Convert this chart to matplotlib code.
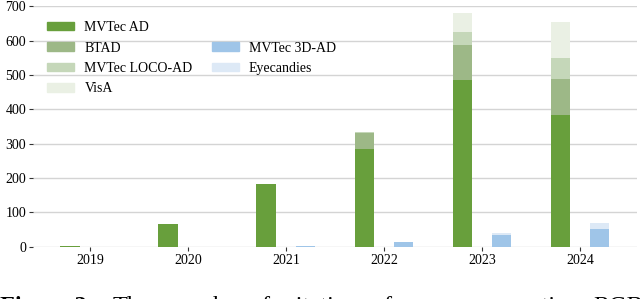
import numpy as np
import matplotlib.pyplot as plt
from matplotlib.patches import Patch

plt.rcParams['font.family'] = ['Liberation Serif', 'DejaVu Serif']

years = ['2019', '2020', '2021', '2022', '2023', '2024']
mvtec_ad = [3, 66, 183, 285, 485, 382]
btad = [0, 0, 0, 45, 102, 106]
mvtec_loco = [0, 0, 0, 3, 38, 60]
visa = [0, 0, 0, 2, 55, 107]
mvtec_3d = [0, 0, 2, 13, 34, 51]
eyecandies = [0, 0, 0, 0, 7, 19]

rgb_labels = ['MVTec AD', 'BTAD', 'MVTec LOCO-AD', 'VisA']
rgb_colors = ['#689f3c', '#9db887', '#c5d7b9', '#eaf0e4']
d3_labels = ['MVTec 3D-AD', 'Eyecandies']
d3_colors = ['#9fc5e8', '#dde9f6']

# caption words (justified line, cut off at the bottom of the crop)
caption_words = ['The', 'number', 'of', 'citations', 'of', 'our', 'comparative', 'RGB']
caption_x = [113, 170, 250, 285, 372, 407, 458, 593]

x = np.arange(len(years))
w = 0.2

fig = plt.figure(figsize=(6.4, 2.99), dpi=100)
ax = fig.add_axes([0.0516, 0.175, 0.9434, 0.804])

bottom = np.zeros(len(years))
for vals, c in zip([mvtec_ad, btad, mvtec_loco, visa], rgb_colors):
    ax.bar(x - w, vals, w, bottom=bottom, color=c, zorder=3)
    bottom += np.array(vals)

bottom = np.zeros(len(years))
for vals, c in zip([mvtec_3d, eyecandies], d3_colors):
    ax.bar(x + w, vals, w, bottom=bottom, color=c, zorder=3)
    bottom += np.array(vals)

ax.set_xlim(-0.58, 5.58)
ax.set_ylim(0, 700)
ax.set_yticks(range(0, 701, 100))
ax.set_xticks(x)
ax.set_xticklabels(years)
ax.yaxis.grid(True, color='#d4d4d4', linewidth=1.0, zorder=0)
ax.set_axisbelow(True)
for s in ax.spines.values():
    s.set_visible(False)
ax.tick_params(axis='both', length=3, width=0.8, color='#333333', labelsize=10, pad=2)

blank = Patch(color='none', label=' ')
handles = [Patch(color=c, label=l) for c, l in zip(rgb_colors, rgb_labels)]
handles += [blank] + [Patch(color=c, label=l) for c, l in zip(d3_colors, d3_labels)] + [blank]
ax.legend(handles=handles, ncol=2, loc='upper left', bbox_to_anchor=(0.003, 0.99),
          frameon=False, fontsize=10, handlelength=1.95, handleheight=0.55,
          handletextpad=0.72, columnspacing=1.37, labelspacing=0.53)

cap_y = -0.045
fig.text(0.0, cap_y, 'Figure 2:', fontsize=17.5, fontweight='bold', va='baseline')
for word, px in zip(caption_words, caption_x):
    fig.text(px / 640, cap_y, word, fontsize=17.5, va='baseline')

fig.savefig('out.png', dpi=100)
